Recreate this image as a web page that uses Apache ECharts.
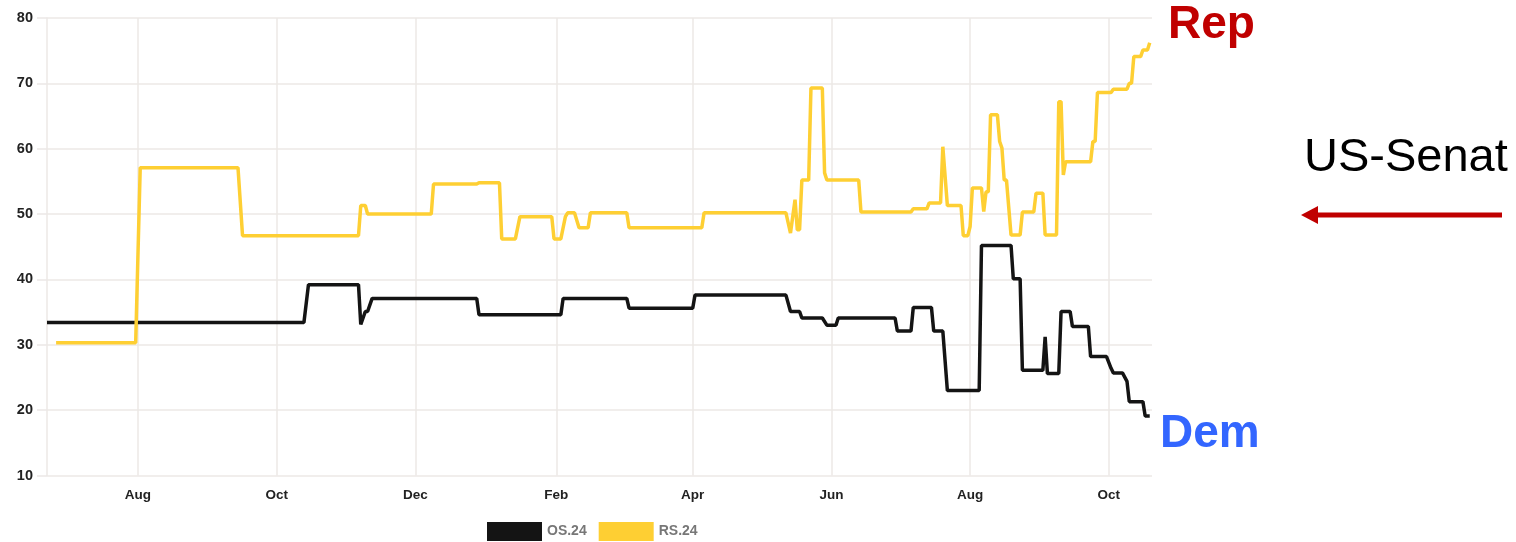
<!DOCTYPE html>
<html>
<head>
<meta charset="utf-8">
<title>US-Senat</title>
<script src="https://cdn.jsdelivr.net/npm/echarts@6/dist/echarts.min.js"></script>
<style>
  html, body { margin: 0; padding: 0; background: #fff; }
  #chart { width: 1516px; height: 542px; }
</style>
</head>
<body>
<div id="chart"></div>
<script>
// Monats-Ticks der x-Achse
const tickDates = ['2023-08-01', '2023-10-01', '2023-12-01', '2024-02-01', '2024-04-01', '2024-06-01', '2024-08-01', '2024-10-01']
const tickLabels = ['Aug', 'Oct', 'Dec', 'Feb', 'Apr', 'Jun', 'Aug', 'Oct']
const xStart = '2023-06-22'
const xEnd = '2024-10-20'

// OS.24 (schwarz)
const osDates = [
  '2023-06-22', '2023-10-13', '2023-10-15', '2023-11-06', '2023-11-07', '2023-11-09', '2023-11-10', '2023-11-12',
  '2023-12-28', '2023-12-29', '2024-02-03', '2024-02-04', '2024-03-03', '2024-03-04', '2024-04-01', '2024-04-02',
  '2024-05-12', '2024-05-14', '2024-05-18', '2024-05-19', '2024-05-28', '2024-05-30', '2024-06-03', '2024-06-04',
  '2024-06-29', '2024-06-30', '2024-07-06', '2024-07-07', '2024-07-15', '2024-07-16', '2024-07-20', '2024-07-22',
  '2024-08-05', '2024-08-06', '2024-08-19', '2024-08-20', '2024-08-23', '2024-08-24', '2024-09-02', '2024-09-03',
  '2024-09-04', '2024-09-09', '2024-09-10', '2024-09-14', '2024-09-15', '2024-09-22', '2024-09-23', '2024-09-30',
  '2024-10-02', '2024-10-03', '2024-10-07', '2024-10-09', '2024-10-10', '2024-10-16', '2024-10-17', '2024-10-19'
]
const osValues = [
  33.4, 33.4, 39.2, 39.2, 33.1, 35.1, 35.1, 37.1,
  37.1, 34.6, 34.6, 37.1, 37.1, 35.6, 35.6, 37.6,
  37.6, 35.1, 35.1, 34.1, 34.1, 33.0, 33.0, 34.1,
  34.1, 32.1, 32.1, 35.7, 35.7, 32.1, 32.1, 23.0,
  23.0, 45.2, 45.2, 40.1, 40.1, 26.1, 26.1, 31.2,
  25.6, 25.6, 35.1, 35.1, 32.8, 32.8, 28.2, 28.2,
  26.4, 25.7, 25.7, 24.4, 21.3, 21.3, 19.1, 19.1
]

// RS.24 (gelb)
const rsDates = [
  '2023-06-26', '2023-07-31', '2023-08-02', '2023-09-14', '2023-09-16', '2023-11-06', '2023-11-07', '2023-11-09',
  '2023-11-10', '2023-12-08', '2023-12-09', '2023-12-28', '2023-12-29', '2024-01-07', '2024-01-08', '2024-01-14',
  '2024-01-16', '2024-01-30', '2024-01-31', '2024-02-03', '2024-02-05', '2024-02-06', '2024-02-09', '2024-02-11',
  '2024-02-15', '2024-02-16', '2024-03-03', '2024-03-04', '2024-04-05', '2024-04-06', '2024-05-12', '2024-05-14',
  '2024-05-16', '2024-05-17', '2024-05-18', '2024-05-19', '2024-05-22', '2024-05-23', '2024-05-28', '2024-05-29',
  '2024-05-30', '2024-06-13', '2024-06-14', '2024-07-06', '2024-07-07', '2024-07-13', '2024-07-14', '2024-07-19',
  '2024-07-20', '2024-07-22', '2024-07-28', '2024-07-29', '2024-07-31', '2024-08-01', '2024-08-02', '2024-08-06',
  '2024-08-07', '2024-08-08', '2024-08-09', '2024-08-10', '2024-08-13', '2024-08-14', '2024-08-15', '2024-08-16',
  '2024-08-17', '2024-08-19', '2024-08-23', '2024-08-24', '2024-08-29', '2024-08-30', '2024-09-02', '2024-09-03',
  '2024-09-08', '2024-09-09', '2024-09-10', '2024-09-11', '2024-09-12', '2024-09-23', '2024-09-24', '2024-09-25',
  '2024-09-26', '2024-10-02', '2024-10-03', '2024-10-09', '2024-10-10', '2024-10-11', '2024-10-12', '2024-10-15',
  '2024-10-16', '2024-10-18', '2024-10-19'
]
const rsValues = [
  30.3, 30.3, 57.1, 57.1, 46.7, 46.7, 51.3, 51.3,
  50.0, 50.0, 54.6, 54.6, 54.8, 54.8, 46.2, 46.2,
  49.6, 49.6, 46.2, 46.2, 49.6, 50.2, 50.2, 47.9,
  47.9, 50.2, 50.2, 47.9, 47.9, 50.2, 50.2, 47.1,
  52.2, 47.6, 47.6, 55.2, 55.2, 69.3, 69.3, 56.3,
  55.2, 55.2, 50.3, 50.3, 50.8, 50.8, 51.7, 51.7,
  60.3, 51.3, 51.3, 46.7, 46.7, 48.1, 54.0, 54.0,
  50.4, 53.4, 53.4, 65.2, 65.2, 61.1, 60.1, 55.2,
  55.2, 46.8, 46.8, 50.3, 50.3, 53.2, 53.2, 46.8,
  46.8, 67.2, 67.2, 56.0, 58.0, 58.0, 61.1, 61.1,
  68.6, 68.6, 69.1, 69.1, 70.0, 70.0, 74.1, 74.1,
  75.1, 75.1, 76.2
]

// 'yyyy-MM-dd' -> Zeitstempel (lokale Zeit)
const toTs = s => {
  const [y, m, d] = s.split('-').map(Number)
  return new Date(y, m - 1, d).getTime()
}
const tickTs = tickDates.map(toTs)

const gridColor = '#ece8e6'
const labelFont = { fontFamily: '"Liberation Sans", Arial, sans-serif', fontWeight: 'bold', fontSize: 13.5, color: '#222' }

const chart = echarts.init(document.getElementById('chart'))

chart.setOption({
  animation: false,
  grid: { left: 47, right: 364, top: 18, bottom: 66.5, containLabel: false },
  legend: {
    left: 482,
    top: 517,
    icon: 'rect',
    itemWidth: 55,
    itemHeight: 19,
    itemGap: 12,
    textStyle: { fontFamily: '"Liberation Sans", Arial, sans-serif', fontWeight: 'bold', fontSize: 14, color: '#777' },
    data: ['OS.24', 'RS.24']
  },
  xAxis: {
    type: 'value',
    min: toTs(xStart),
    max: toTs(xEnd),
    axisLine: { show: false },
    axisTick: { show: false, customValues: tickTs },
    axisLabel: {
      ...labelFont,
      margin: 13,
      customValues: tickTs,
      formatter: v => {
        const i = tickTs.indexOf(v)
        return i >= 0 ? tickLabels[i] : ''
      }
    },
    splitLine: { show: true, lineStyle: { color: gridColor, width: 1.5 } }
  },
  yAxis: {
    type: 'value',
    min: 10,
    max: 80,
    interval: 10,
    axisLine: { show: true, lineStyle: { color: gridColor, width: 1.5 } },
    axisTick: { show: true, length: 10, lineStyle: { color: gridColor, width: 1.5 } },
    axisLabel: { ...labelFont, fontSize: 14.5, margin: 14 },
    splitLine: { show: true, lineStyle: { color: gridColor, width: 1.5 } }
  },
  series: [
    {
      name: 'OS.24',
      type: 'line',
      showSymbol: false,
      color: '#141414',
      lineStyle: { width: 3.5, color: '#141414' },
      data: osDates.map((d, i) => [toTs(d), osValues[i]])
    },
    {
      name: 'RS.24',
      type: 'line',
      showSymbol: false,
      color: '#fecf33',
      lineStyle: { width: 3.5, color: '#fecf33' },
      data: rsDates.map((d, i) => [toTs(d), rsValues[i]])
    }
  ],
  graphic: [
    {
      type: 'text', left: 1168, top: 2,
      style: { text: 'Rep', fontFamily: '"Liberation Sans", Arial, sans-serif', fontWeight: 'bold', fontSize: 46, fill: '#c00000' }
    },
    {
      type: 'text', left: 1160, top: 411,
      style: { text: 'Dem', fontFamily: '"Liberation Sans", Arial, sans-serif', fontWeight: 'bold', fontSize: 46, fill: '#3366ff' }
    },
    {
      type: 'text', left: 1304, top: 135,
      style: { text: 'US-Senat', fontFamily: '"Liberation Sans", Arial, sans-serif', fontSize: 47, fill: '#000' }
    },
    {
      type: 'line',
      shape: { x1: 1502, y1: 215, x2: 1314, y2: 215 },
      style: { stroke: '#c00000', lineWidth: 5 }
    },
    {
      type: 'polygon',
      shape: { points: [[1301, 215], [1318, 206], [1318, 224]] },
      style: { fill: '#c00000' }
    }
  ]
})

window.addEventListener('resize', () => chart.resize())
</script>
</body>
</html>
